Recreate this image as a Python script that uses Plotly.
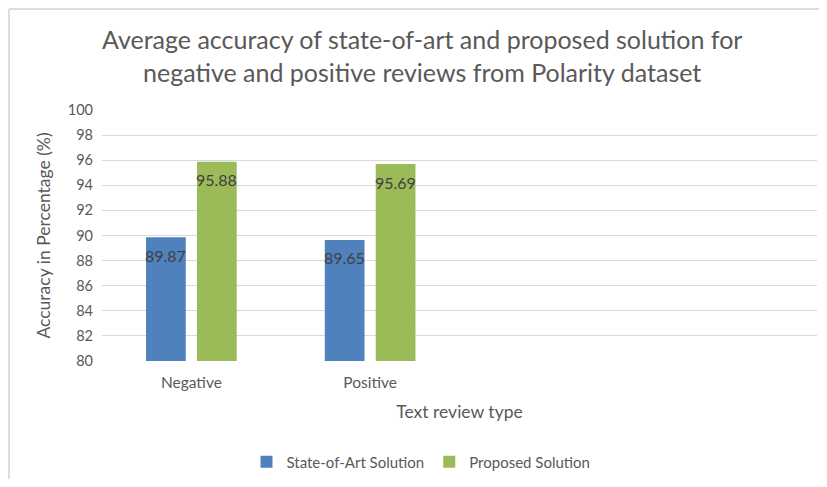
import plotly.graph_objects as go

categories = ["Negative", "Positive"]
all_categories = ["Negative", "Positive", " ", "  "]
state_of_art = [89.87, 89.65]
proposed = [95.88, 95.69]
y_ticks = [80, 82, 84, 86, 88, 90, 92, 94, 96, 98, 100]

FONT = "Lato"
GREY = "#595959"
LABEL = "#404040"

# page body has an 8px margin: figure drawn 8px in from the window edge
W, H = 811, 471
L, R, T, B = 94, 2, 102, 118
plot_w = W - L - R
plot_h = H - T - B
cat_w = plot_w / len(all_categories)
bargap = 0.43
bargroupgap = 0.22
slot = cat_w * (1 - bargap) / 2


def px(xs):
    """screen x -> paper x"""
    return (xs - 8 - L) / plot_w


def py(ys):
    """screen y -> paper y"""
    return (H - B + 8 - ys) / plot_h


fig = go.Figure()
fig.add_trace(go.Bar(
    name="State-of-Art Solution", x=categories, y=state_of_art,
    marker=dict(color="#4F81BD", line=dict(width=0)),
))
fig.add_trace(go.Bar(
    name="Proposed Solution", x=categories, y=proposed,
    marker=dict(color="#9BBB59", line=dict(width=0)),
))

annotations = []
for values, shift in ((state_of_art, -slot / 2), (proposed, slot / 2)):
    for c, v in zip(categories, values):
        annotations.append(dict(
            x=c, y=v, xref="x", yref="y", text=f"{v:.2f}", showarrow=False,
            xanchor="center", yanchor="middle", xshift=shift, yshift=-18,
            font=dict(family=FONT, size=16, color=LABEL),
        ))

annotations.append(dict(
    text="Average accuracy of state-of-art and proposed solution for<br>negative and positive reviews from Polarity dataset",
    xref="paper", yref="paper", x=px(422), y=py(56),
    xanchor="center", yanchor="middle", showarrow=False,
    font=dict(family=FONT, size=25, color=GREY),
))

border = dict(color="#DDDDDD", width=2)
shapes = [
    dict(type="line", xref="paper", yref="paper",
         x0=px(9), x1=px(830), y0=py(9), y1=py(9), line=border),
    dict(type="line", xref="paper", yref="paper",
         x0=px(9), x1=px(9), y0=py(9), y1=py(490), line=border),
]

fig.update_layout(
    width=W, height=H,
    margin=dict(l=L, r=R, t=T, b=B, autoexpand=False),
    paper_bgcolor="white", plot_bgcolor="white",
    font=dict(family=FONT, color=GREY),
    barmode="group", bargap=bargap, bargroupgap=bargroupgap,
    xaxis=dict(
        type="category", categoryorder="array", categoryarray=all_categories,
        range=[-0.5, len(all_categories) - 0.5], showgrid=False, showline=False,
        ticks="", automargin=False, ticklabelstandoff=10,
        tickfont=dict(family=FONT, size=15.5, color=GREY),
        title=dict(text="Text review type", standoff=16,
                   font=dict(family=FONT, size=17.5, color=GREY)),
    ),
    yaxis=dict(
        range=[80, 100], tickvals=y_ticks, showgrid=True, automargin=False,
        gridcolor="#D9D9D9", gridwidth=1, zeroline=False, showline=False,
        tickfont=dict(family=FONT, size=14.5, color=GREY), ticklabelstandoff=8,
        title=dict(text="Accuracy in Percentage (%)", standoff=12,
                   font=dict(family=FONT, size=17.5, color=GREY)),
    ),
    legend=dict(
        orientation="h", xref="container", x=(421 - 8) / W, xanchor="center",
        yref="container", y=1 - 454 / H, yanchor="middle",
        font=dict(family=FONT, size=15, color=GREY),
        itemwidth=30, traceorder="normal",
    ),
    annotations=annotations,
    shapes=shapes,
)

fig.write_html("out.html")
